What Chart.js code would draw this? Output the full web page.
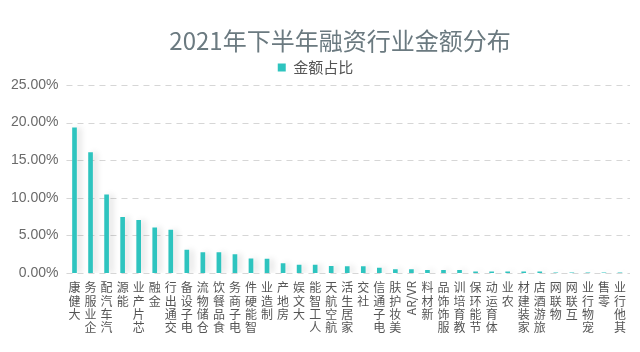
<!DOCTYPE html>
<html>
<head>
<meta charset="utf-8">
<script src="https://cdn.jsdelivr.net/npm/chart.js@4/dist/chart.umd.min.js"></script>
<style>
html,body{margin:0;padding:0;background:#fff;}
#wrap{width:640px;height:352px;}
</style>
</head>
<body>
<div id="wrap"><canvas id="c" width="640" height="352"></canvas></div>
<script>
const chartTitle = "2021年下半年融资行业金额分布";
const seriesName = "金额占比";
const categories = ["大健康","企业服务","汽车汽配","能源","芯片产业","金融","交通出行","电子设备","仓储物流","食品餐饮","电子商务","智能硬件","制造业","房地产","大文娱","人工智能","航空航天","家居生活","社交","电子通信","美妆护肤","AR/VR","新材料","服饰饰品","教育培训","节能环保","体育运动","农业","家装建材","旅游酒店","物联网","互联网","宠物行业","零售","其他行业"];
const shares = [19.3,16.0,10.4,7.4,7.0,6.0,5.7,3.05,2.7,2.7,2.45,1.9,1.85,1.25,1.05,1.05,0.9,0.85,0.85,0.65,0.45,0.45,0.35,0.35,0.35,0.15,0.15,0.15,0.15,0.15,0.03,0.03,0.02,0.02,0.01];
const yTicks = [0,5,10,15,20,25];

const CJK = '"Noto Sans CJK SC", "Noto Sans", sans-serif';
const barColor = '#2ec4bf';

const gridPlugin = {
  id: 'dashedGrid',
  beforeDatasetsDraw(chart) {
    const ctx = chart.ctx;
    const ys = chart.scales.y;
    const a = chart.chartArea;
    ctx.save();
    ctx.strokeStyle = '#d6d6d6';
    ctx.lineWidth = 1;
    ctx.setLineDash([6, 5]);
    yTicks.forEach(v => {
      const y = Math.round(ys.getPixelForValue(v)) + 0.5;
      ctx.beginPath();
      ctx.moveTo(a.left, y);
      ctx.lineTo(a.right + 2, y);
      ctx.stroke();
    });
    ctx.restore();
  }
};

const shadowPlugin = {
  id: 'barShadow',
  beforeDatasetsDraw(chart) {
    const ctx = chart.ctx;
    ctx.save();
    ctx.shadowColor = 'rgba(0,0,0,0.13)';
    ctx.shadowBlur = 6;
    ctx.shadowOffsetX = 4;
    ctx.shadowOffsetY = 0;
  },
  afterDatasetsDraw(chart) {
    chart.ctx.restore();
  }
};

const textPlugin = {
  id: 'customText',
  afterDraw(chart) {
    const ctx = chart.ctx;
    const xs = chart.scales.x;
    const top = chart.chartArea.bottom + 8;
    ctx.save();
    ctx.fillStyle = '#6b7a80';
    ctx.font = '24px ' + CJK;
    ctx.textAlign = 'center';
    ctx.textBaseline = 'middle';
    ctx.fillText(chartTitle, 340, 41);
    ctx.fillStyle = '#555';
    ctx.font = '12px ' + CJK;
    const pitch = 13.3;
    categories.forEach((lab, i) => {
      const x = xs.getPixelForValue(i);
      if (/^[\x00-\x7f]+$/.test(lab)) {
        ctx.save();
        ctx.translate(x, top);
        ctx.rotate(-Math.PI / 2);
        ctx.textAlign = 'right';
        ctx.textBaseline = 'middle';
        ctx.fillText(lab, 0, 0);
        ctx.restore();
      } else {
        const chars = Array.from(lab).reverse();
        ctx.textAlign = 'center';
        ctx.textBaseline = 'middle';
        chars.forEach((ch, k) => {
          ctx.fillText(ch, x, top + pitch / 2 + k * pitch);
        });
      }
    });
    ctx.restore();
  }
};

new Chart(document.getElementById('c'), {
  type: 'bar',
  data: {
    labels: categories,
    datasets: [{
      label: seriesName,
      data: shares,
      backgroundColor: barColor,
      borderWidth: 0,
      barThickness: 4
    }]
  },
  options: {
    responsive: false,
    animation: false,
    layout: { padding: { left: 3, right: 12, top: 56, bottom: 71 } },
    plugins: {
      title: { display: false },
      tooltip: { enabled: false },
      legend: {
        display: true,
        position: 'top',
        labels: {
          color: '#555',
          font: { family: CJK, size: 15 },
          boxWidth: 8,
          boxHeight: 8,
          padding: 4
        }
      }
    },
    scales: {
      x: {
        grid: { display: false },
        border: { display: false },
        ticks: { display: false }
      },
      y: {
        min: 0,
        max: 25,
        afterBuildTicks(axis) { axis.ticks = yTicks.map(v => ({ value: v })); },
        grid: { display: false, drawTicks: false },
        border: { display: false },
        ticks: {
          color: '#6a6a6a',
          font: { family: '"Liberation Sans", Arial, sans-serif', size: 14 },
          padding: 8,
          callback: v => v.toFixed(2) + '%'
        }
      }
    }
  },
  plugins: [gridPlugin, shadowPlugin, textPlugin]
});
</script>
</body>
</html>
